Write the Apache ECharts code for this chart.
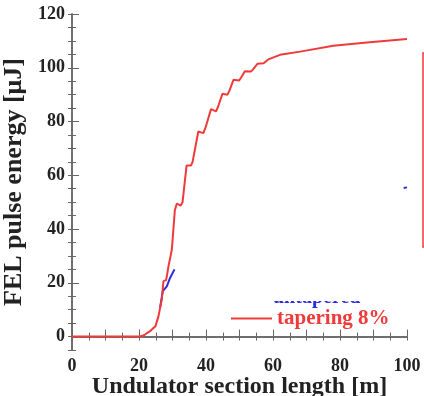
<!DOCTYPE html>
<html>
<head>
<meta charset="utf-8">
<script src="https://cdn.jsdelivr.net/npm/echarts@6/dist/echarts.min.js"></script>
<style>
  html, body { margin: 0; padding: 0; background: #fff; }
  #chart { width: 424px; height: 396px; }
</style>
</head>
<body>
<div id="chart"></div>
<script>
// FEL pulse energy along the undulator, tapered (red) vs untapered (blue, mostly hidden)
const tickLabelsX = [0, 20, 40, 60, 80, 100];
const tickLabelsY = [0, 20, 40, 60, 80, 100, 120];
const majorTicksX = [0, 10, 20, 30, 40, 50, 60, 70, 80, 90, 100];

// [section length m, energy uJ]
const tapered = [
  [0, 0], [20.3, 0], [21.5, 0.5], [22.5, 1.4], [23.3, 2], [24.3, 3.2], [24.9, 3.8],
  [25.8, 7.5], [26.8, 13.8], [27.3, 20.6], [28.1, 21], [28.8, 26.1], [29.8, 32.3],
  [30.7, 47], [31.3, 49.5], [32.4, 48.7], [33.0, 50], [34.2, 63.6], [35.5, 63.6],
  [36.0, 65], [37.7, 76.3], [39.2, 75.7], [39.8, 77.5], [41.5, 84.6], [43.0, 83.8],
  [43.6, 85.5], [44.9, 90.3], [46.4, 90], [47.0, 91.5], [48.2, 95.5], [49.9, 95.3],
  [50.4, 96.2], [51.6, 98.7], [53.4, 98.6], [54.0, 99.3], [55.4, 101.5], [57.2, 101.7],
  [58.6, 103.1], [62.1, 104.8], [68.1, 106], [78, 108.2], [88, 109.4], [100, 110.7]
];
const untaperedStart = [[26.3, 10.8], [27.1, 16.9], [28.3, 18.7], [29.3, 21.9], [30.6, 25]];
const untaperedEnd = [[99, 55.3], [100, 55.5]];

const FONT = "'Liberation Serif', 'DejaVu Serif', serif";
const AXIS = "#666";
const TEXT = "#222";
const RED = "#f03a3a";
const BLUE = "#2b2bdf";

const chart = echarts.init(document.getElementById("chart"), null, { renderer: "canvas" });

const baseX = {
  type: "value", min: 0, max: 100, interval: 5,
  axisLine: { show: true, lineStyle: { color: AXIS, width: 1.5 } },
  splitLine: { show: false },
};
const baseY = {
  type: "value", min: -5, max: 120, interval: 5,
  axisLine: { show: true, lineStyle: { color: AXIS, width: 1.5 } },
  splitLine: { show: false },
};

chart.setOption({
  animation: false,
  backgroundColor: "#fff",
  grid: { left: 72, right: 17, top: 14, bottom: 46, outerBoundsMode: "none", containLabel: false },
  xAxis: [
    Object.assign({}, baseX, {
      position: "bottom",
      name: "Undulator section length [m]",
      nameLocation: "middle",
      nameGap: 25,
      nameMoveOverlap: false,
      nameTextStyle: { fontFamily: FONT, fontWeight: "bold", fontSize: 24, color: TEXT },
      axisTick: { inside: true, length: 4, lineStyle: { color: AXIS } },
      axisLabel: {
        customValues: tickLabelsX, margin: 7,
        fontFamily: FONT, fontWeight: "bold", fontSize: 18, color: TEXT,
      },
    }),
    Object.assign({}, baseX, {
      position: "bottom",
      axisLine: { show: false },
      axisTick: { inside: true, length: 7, customValues: majorTicksX, lineStyle: { color: AXIS } },
      axisLabel: { show: false },
    }),
    Object.assign({}, baseX, {
      position: "top",
      axisTick: { inside: true, length: 4, lineStyle: { color: AXIS } },
      axisLabel: { show: false },
    }),
  ],
  yAxis: [
    Object.assign({}, baseY, {
      position: "left",
      name: "FEL pulse energy [\u03bcJ]",
      nameLocation: "middle",
      nameGap: 32,
      nameTextStyle: { fontFamily: FONT, fontWeight: "bold", fontSize: 26, color: TEXT },
      axisTick: { inside: true, length: 4, lineStyle: { color: AXIS } },
      axisLabel: {
        customValues: tickLabelsY, margin: 7,
        fontFamily: FONT, fontWeight: "bold", fontSize: 18, color: TEXT,
      },
    }),
    Object.assign({}, baseY, {
      position: "left",
      axisLine: { show: false },
      axisTick: { inside: true, length: 7, customValues: tickLabelsY, lineStyle: { color: AXIS } },
      axisLabel: { show: false },
    }),
    Object.assign({}, baseY, {
      position: "right",
      axisTick: { inside: true, length: 4, lineStyle: { color: AXIS } },
      axisLabel: { show: false },
    }),
  ],
  legend: {
    data: [{ name: "tapering 8%", icon: "rect" }],
    left: 226, top: 303,
    itemWidth: 41, itemHeight: 2, itemGap: 6,
    textStyle: { fontFamily: FONT, fontWeight: "bold", fontSize: 21, color: RED },
  },
  graphic: [
    // untapered legend entry, almost fully covered in the original figure
    { type: "text", left: 273, top: 287.5, z: 10,
      style: { text: "untapered", fill: BLUE, font: "bold 20px " + FONT } },
    { type: "rect", shape: { x: 268, y: 276, width: 100, height: 25 }, z: 11,
      style: { fill: "#fff" } },
    // legend frame cut by the right edge
    { type: "rect", shape: { x: 423, y: 53, width: 30, height: 194 }, z: 12,
      style: { fill: "none", stroke: RED, lineWidth: 1.5 } },
  ],
  series: [
    {
      name: "untapered", type: "line", data: untaperedStart,
      showSymbol: false, symbol: "none",
      lineStyle: { color: BLUE, width: 2 }, itemStyle: { color: BLUE }, z: 2,
    },
    {
      name: "untapered end", type: "line", data: untaperedEnd,
      showSymbol: false, symbol: "none",
      lineStyle: { color: BLUE, width: 2 }, itemStyle: { color: BLUE }, z: 2,
    },
    {
      name: "tapering 8%", type: "line", data: tapered,
      showSymbol: false, symbol: "none",
      lineStyle: { color: RED, width: 2 }, itemStyle: { color: RED }, z: 3,
    },
  ],
});
</script>
</body>
</html>
